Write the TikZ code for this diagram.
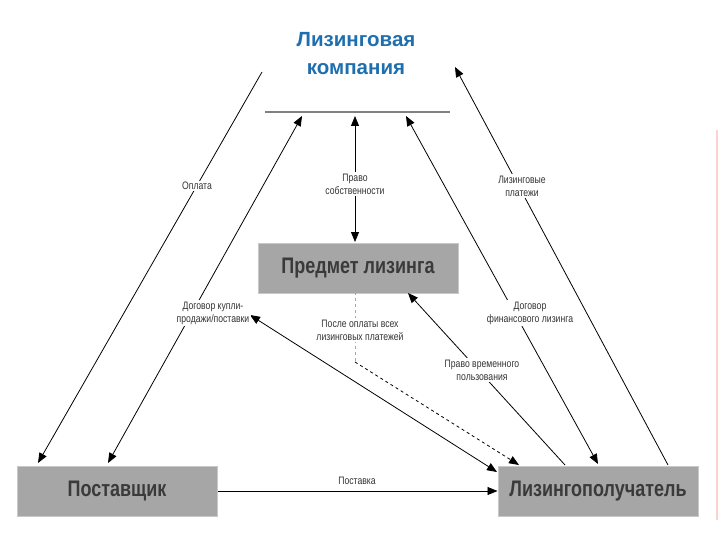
\documentclass[tikz,border=0pt]{standalone}
\usepackage{fontspec}
\setmainfont{Liberation Sans}
\newfontfamily\narrowfont{Liberation Sans}[FakeStretch=0.8]
\usetikzlibrary{arrows.meta}
\definecolor{boxgray}{HTML}{A6A6A6}
\definecolor{boxedge}{HTML}{C8C8C8}
\definecolor{titleblue}{HTML}{1F6FAF}
\definecolor{txtgray}{HTML}{3A3A3A}
\tikzset{
  box/.style={draw=boxedge, line width=1pt, fill=boxgray, minimum width=200pt, minimum height=50pt,
    text=txtgray, font=\narrowfont\fontsize{22.5}{25}\selectfont\bfseries, inner sep=0pt},
  lbl/.style={fill=white, inner sep=1.5pt, align=center, text=black!80,
    font=\narrowfont\fontsize{10.8}{13}\selectfont},
  conn/.style={line width=0.8pt, black},
  tip/.style={-{Triangle[length=10pt,width=8pt]}},
  tips/.style={{Triangle[length=10pt,width=8pt]}-{Triangle[length=10pt,width=8pt]}}
}
\begin{document}
\begin{tikzpicture}[x=1pt,y=-1pt]
\useasboundingbox (0,0) rectangle (720,540);
\fill[pink!70] (716,130) rectangle (718,520);

% title
\node[text=titleblue, align=center, font=\fontsize{20.5}{28}\selectfont\bfseries] (lc) at (356,54) {Лизинговая\\компания};
\coordinate (tl) at (265,112);
\coordinate (tr) at (450,112);
\draw[gray, line width=2pt] (tl) -- (tr);

% coordinates
\coordinate (a1) at (262,72);  \coordinate (a2) at (38,463);
\coordinate (b1) at (302,116); \coordinate (b2) at (108,463);
\coordinate (c1) at (355,116); \coordinate (c2) at (355,242);
\coordinate (d1) at (668,465); \coordinate (d2) at (455,67);
\coordinate (e1) at (406,116); \coordinate (e2) at (598,464);
\coordinate (f1) at (565,465); \coordinate (f2) at (408,293);
\coordinate (g1) at (250,315); \coordinate (g2) at (497,472);
\coordinate (h0) at (355,292); \coordinate (h1) at (355,362); \coordinate (h2) at (519,465);

% boxes
\node[box] (item) at (358,268) {Предмет лизинга};
\node[box] (sup) at (117,491) {Поставщик};
\node[box] (les) at (598,491) {Лизингополучатель};

% connectors
\draw[conn, tip] (a1) -- (a2);
\draw[conn, tips] (b1) -- (b2);
\draw[conn, tips] (c1) -- (c2);
\draw[conn, tip] (d1) -- (d2);
\draw[conn, tips] (e1) -- (e2);
\draw[conn, tip] (f1) -- (f2);
\draw[conn, tips] (g1) -- (g2);
\draw[gray!70, line width=0.6pt, dashed] (h0) -- (h1);
\draw[conn, dashed, -{Triangle[length=10pt,width=8pt]}] (h1) -- (h2);
\draw[conn, tip] (sup.east) -- (les.west);

% labels
\node[lbl] (l1) at (197,186) {Оплата};
\node[lbl] (l2) at (355,184) {Право\\собственности};
\node[lbl] (l3) at (522,186) {Лизинговые\\платежи};
\node[lbl] (l4) at (213,313) {Договор купли-\\продажи/поставки};
\node[lbl] (l5) at (360,330) {После оплаты всех\\лизинговых платежей};
\node[lbl] (l6) at (530,313) {Договор\\финансового лизинга};
\node[lbl] (l7) at (482,370) {Право временного\\пользования};
\node[lbl, fill=none] (l8) at (357,481) {Поставка};
\end{tikzpicture}
\end{document}
